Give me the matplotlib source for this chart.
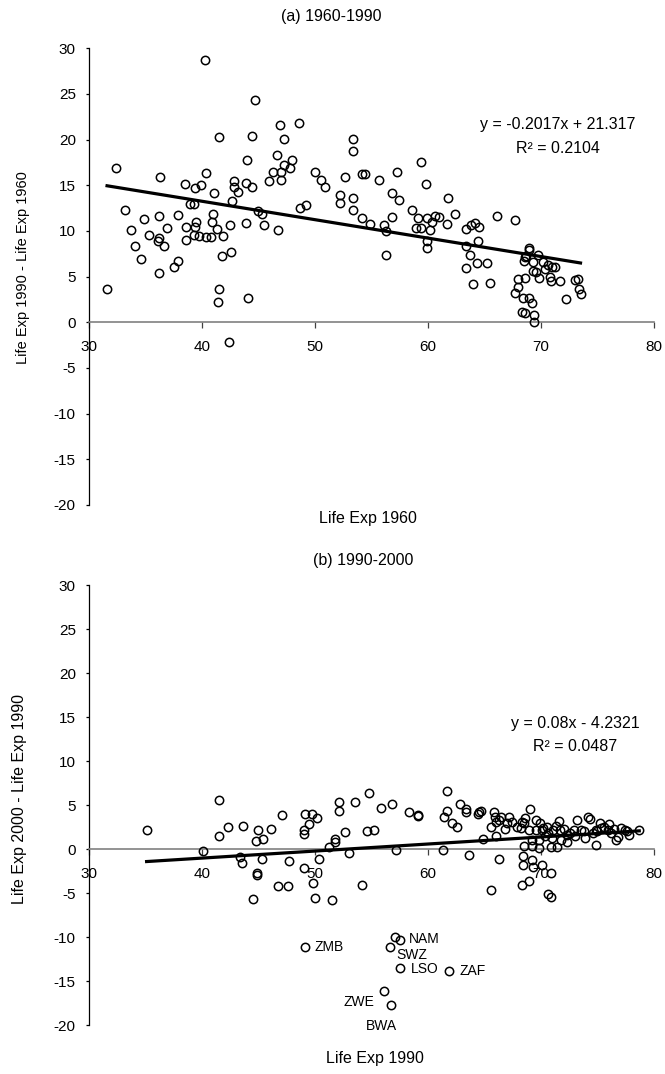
import matplotlib
matplotlib.use('Agg')
import matplotlib.pyplot as plt
import numpy as np

plt.rcParams['font.family'] = ['Liberation Sans', 'DejaVu Sans']
plt.rcParams['axes.unicode_minus'] = False

# (a) 1960-1990
life_1960 = [31.6, 32.4, 33.2, 33.7, 34.1, 34.6, 34.9, 35.3, 36.2, 36.2,
             36.1, 36.2, 36.3, 36.6, 36.9, 37.5, 37.9, 37.9, 38.5, 38.6,
             38.6, 38.9, 39.3, 39.4, 39.5, 39.4, 39.3, 39.7, 39.9, 40.3,
             40.4, 40.4, 40.8, 41.0, 40.9, 41.1, 41.3, 41.5, 41.5, 41.4,
             41.8, 41.9, 42.4, 42.5, 42.6, 42.7, 42.8, 42.8, 43.2, 43.9,
             44.0, 44.1, 44.4, 44.4, 43.9, 44.7, 45.0, 45.3, 45.5, 45.9,
             46.3, 46.6, 46.7, 46.9, 47.0, 47.0, 47.3, 47.3, 47.8, 48.0,
             48.6, 48.7, 49.2, 50.0, 50.5, 50.9, 52.2, 52.2, 52.7, 53.4,
             53.4, 53.4, 53.4, 54.2, 54.4, 54.2, 54.9, 55.7, 56.1, 56.3,
             56.3, 56.8, 56.8, 57.3, 57.4, 58.6, 59.1, 58.9, 59.4, 59.4,
             59.8, 59.9, 59.9, 59.9, 60.2, 60.4, 60.6, 61.0, 61.7, 61.8,
             62.4, 63.4, 63.8, 64.2, 64.5, 64.4, 63.4, 63.7, 63.4, 64.3,
             65.2, 64.0, 65.5, 66.1, 67.7, 68.9, 68.9, 68.6, 68.5, 68.7,
             69.7, 69.3, 70.2, 70.6, 71.0, 71.2, 69.3, 69.6, 69.8, 70.4,
             70.8, 70.9, 71.7, 73.0, 73.3, 73.4, 73.5, 72.2, 68.0, 68.6,
             68.0, 67.7, 68.4, 68.9, 69.2, 68.3, 68.6, 69.4, 69.4]
gain_1960_1990 = [3.6, 16.9, 12.3, 10.1, 8.3, 6.9, 11.3, 9.5, 11.6, 9.2,
                  8.9, 5.4, 15.9, 8.4, 10.3, 6.0, 6.7, 11.7, 15.1, 10.4,
                  9.0, 13.0, 12.9, 14.7, 11.0, 10.4, 9.6, 9.4, 15.0, 28.7,
                  16.3, 9.3, 9.3, 11.8, 11.0, 14.1, 10.2, 20.3, 3.6, 2.2,
                  7.3, 9.4, -2.2, 10.7, 7.7, 13.3, 15.5, 14.8, 14.3, 10.9,
                  17.8, 2.7, 14.8, 20.4, 15.2, 24.3, 12.2, 11.9, 10.7, 15.5,
                  16.5, 18.3, 10.1, 21.6, 15.6, 16.5, 20.1, 17.2, 16.9, 17.8,
                  21.8, 12.5, 12.8, 16.4, 15.6, 14.8, 13.9, 13.1, 15.9, 20.1,
                  18.8, 13.6, 12.3, 16.2, 16.2, 11.4, 10.8, 15.6, 10.7, 10.0,
                  7.4, 14.2, 11.5, 16.4, 13.4, 12.3, 11.4, 10.3, 10.3, 17.6,
                  15.1, 11.4, 8.9, 8.1, 10.1, 11.0, 11.6, 11.5, 10.8, 13.6,
                  11.8, 10.2, 10.7, 10.9, 10.4, 8.9, 8.3, 7.4, 5.9, 6.5,
                  6.5, 4.2, 4.3, 11.6, 11.2, 8.1, 7.9, 7.1, 6.7, 7.3,
                  7.4, 6.6, 6.6, 6.3, 6.1, 6.0, 5.6, 5.5, 4.9, 5.8,
                  5.0, 4.5, 4.5, 4.6, 4.7, 3.6, 3.1, 2.5, 4.7, 4.8,
                  3.9, 3.2, 2.7, 2.7, 2.1, 1.1, 1.0, 0.8, 0.0]
fit_a = (-0.2017, 21.317)
eq_a = ['y = -0.2017x + 21.317', 'R² = 0.2104']

# (b) 1990-2000
life_1990 = [35.1, 40.1, 41.5, 41.5, 42.3, 43.6, 43.4, 43.5, 45.0, 44.8,
             45.4, 45.3, 44.9, 44.9, 44.5, 46.1, 47.1, 47.7, 46.7, 47.6,
             49.0, 49.0, 49.1, 49.7, 49.5, 50.2, 49.0, 49.8, 50.0, 50.4,
             51.2, 51.8, 51.8, 52.1, 52.1, 52.7, 53.0, 53.5, 51.5, 54.2,
             54.8, 54.6, 55.2, 55.8, 56.8, 57.2, 58.3, 59.1, 59.1, 61.3,
             61.4, 61.7, 61.7, 62.1, 62.6, 62.8, 63.4, 63.4, 63.6, 64.4,
             64.5, 64.7, 64.9, 65.8, 65.9, 66.0, 65.6, 66.0, 66.3, 65.6,
             66.3, 66.5, 66.8, 67.0, 67.2, 67.4, 67.9, 68.2, 68.3, 68.5,
             68.6, 69.0, 68.5, 69.2, 69.2, 68.4, 68.4, 69.2, 69.3, 70.1,
             68.3, 68.9, 70.9, 70.6, 70.9, 69.6, 69.9, 70.1, 68.9, 69.6,
             69.8, 69.8, 70.2, 70.5, 70.6, 71.1, 70.9, 71.4, 71.6, 71.7,
             72.0, 72.3, 72.3, 72.9, 73.2, 73.5, 73.8, 74.2, 74.3, 74.6,
             74.9, 75.0, 75.3, 74.9, 75.6, 75.9, 76.2, 76.6, 76.8, 77.1,
             77.4, 77.6, 77.8, 78.7, 70.4, 71.0, 71.3, 71.8, 72.6, 73.0,
             76.0, 76.5, 75.2, 73.9]
gain_1990_2000 = [2.2, -0.2, 5.6, 1.5, 2.5, 2.6, -0.9, -1.6, 2.2, 0.9,
                  1.1, -1.1, -2.7, -3.0, -5.7, 2.3, 3.9, -1.4, -4.2, -4.2,
                  2.2, 1.7, 4.0, 4.0, 2.8, 3.5, -2.2, -3.9, -5.6, -1.1,
                  0.2, 1.1, 0.8, 5.3, 4.3, 1.9, -0.4, 5.3, -5.8, -4.1,
                  6.4, 2.0, 2.2, 4.7, 5.1, -0.1, 4.2, 3.9, 3.7, -0.1,
                  3.6, 6.6, 4.3, 2.9, 2.5, 5.1, 4.6, 4.2, -0.7, 4.0,
                  4.2, 4.3, 1.1, 4.2, 3.6, 3.1, 2.5, 1.5, -1.1, -4.7,
                  3.3, 3.6, 2.3, 3.0, 3.6, 3.1, 2.5, 2.4, 3.1, 3.0,
                  3.5, 4.6, 0.3, 0.3, 1.0, -0.8, -1.8, -1.3, -2.0, -1.8,
                  -4.1, -3.6, -2.7, -5.1, -5.5, 3.3, 2.9, 2.2, 2.2, 2.2,
                  1.0, 0.1, 2.4, 2.5, 1.8, 2.2, 0.2, 0.2, 3.2, 2.2,
                  2.3, 1.6, 0.8, 2.2, 3.3, 2.2, 2.1, 3.6, 3.4, 1.8,
                  2.2, 2.0, 2.4, 0.5, 2.5, 2.2, 1.8, 1.0, 1.4, 2.4,
                  2.2, 2.1, 1.6, 2.2, 1.5, 1.2, 2.6, 1.0, 1.8, 1.5,
                  2.8, 2.3, 3.0, 1.3]
# labelled outliers
out_codes = ['ZMB', 'NAM', '', 'SWZ', 'LSO', 'ZAF', 'ZWE', 'BWA']
out_life_1990 = [49.1, 57.5, 57.1, 56.6, 57.5, 61.9, 56.1, 56.7]
out_gain = [-11.1, -10.3, -10.0, -11.1, -13.5, -13.9, -16.1, -17.7]
fit_b = (0.08, -4.2321)
eq_b = ['y = 0.08x - 4.2321', 'R² = 0.0487']

# label offsets in points (dx, dy, ha)
label_pos = {'ZMB': (7, 0, 'left'), 'NAM': (6.5, 0.7, 'left'),
             'SWZ': (5, -6.3, 'left'), 'LSO': (8, -1.2, 'left'),
             'ZAF': (7.2, 0, 'left'), 'ZWE': (-7.2, -8, 'right'),
             'BWA': (-6.5, -15, 'center')}

fig = plt.figure(figsize=(6.65, 10.74), dpi=100)
ax1 = fig.add_axes([0.1338, 0.5298, 0.8496, 0.4253])
ax2 = fig.add_axes([0.1338, 0.0456, 0.8496, 0.4097])


def style(ax):
    ax.set_xlim(30, 80)
    ax.set_ylim(-20, 30)
    ax.set_xticks(range(30, 81, 10))
    ax.set_yticks(range(-20, 31, 5))
    ax.spines['top'].set_visible(False)
    ax.spines['right'].set_visible(False)
    ax.spines['bottom'].set_position(('data', 0))
    ax.spines['bottom'].set_color('#808080')
    ax.spines['bottom'].set_linewidth(1.2)
    ax.spines['left'].set_linewidth(0.9)
    ax.tick_params(axis='x', direction='out', length=4, width=0.9,
                   color='#404040', pad=9, labelsize=11)
    ax.tick_params(axis='y', direction='out', length=2.5, width=0.9,
                   pad=7, labelsize=11)


def scatter_fit(ax, x, y, fit):
    ax.plot(x, y, 'o', ms=6, mfc='none', mec='black', mew=1.1,
            clip_on=False, zorder=3)
    xs = np.array([min(x), max(x)])
    ax.plot(xs, fit[0] * xs + fit[1], color='black', lw=2.3, zorder=4)


style(ax1)
scatter_fit(ax1, life_1960, gain_1960_1990, fit_a)
ax1.text(71.5, 21.65, eq_a[0], ha='center', va='center', fontsize=11.5)
ax1.text(71.5, 19.0, eq_a[1], ha='center', va='center', fontsize=11.5)

style(ax2)
scatter_fit(ax2, life_1990 + out_life_1990, gain_1990_2000 + out_gain, fit_b)
ax2.text(73.0, 14.3, eq_b[0], ha='center', va='center', fontsize=11.5)
ax2.text(73.0, 11.7, eq_b[1], ha='center', va='center', fontsize=11.5)
for code, xv, yv in zip(out_codes, out_life_1990, out_gain):
    if not code:
        continue
    dx, dy, ha = label_pos[code]
    ax2.annotate(code, (xv, yv), xytext=(dx, dy), textcoords='offset points',
                 ha=ha, va='center', fontsize=10)

fig.text(331 / 665, 1 - 17 / 1074, '(a) 1960-1990', ha='center', va='center', fontsize=11.5)
fig.text(363 / 665, 1 - 560 / 1074, '(b) 1990-2000', ha='center', va='center', fontsize=11.5)
fig.text(368 / 665, 1 - 518 / 1074, 'Life Exp 1960', ha='center', va='center', fontsize=11.5)
fig.text(375 / 665, 1 - 1059 / 1074, 'Life Exp 1990', ha='center', va='center', fontsize=11.5)
fig.text(23 / 665, 1 - 268 / 1074, 'Life Exp 1990 - Life Exp 1960', ha='center', va='center',
         rotation=90, fontsize=10.5)
fig.text(20 / 665, 1 - 799 / 1074, 'Life Exp 2000 - Life Exp 1990', ha='center', va='center',
         rotation=90, fontsize=11.5)

fig.savefig('out.png', dpi=100)
